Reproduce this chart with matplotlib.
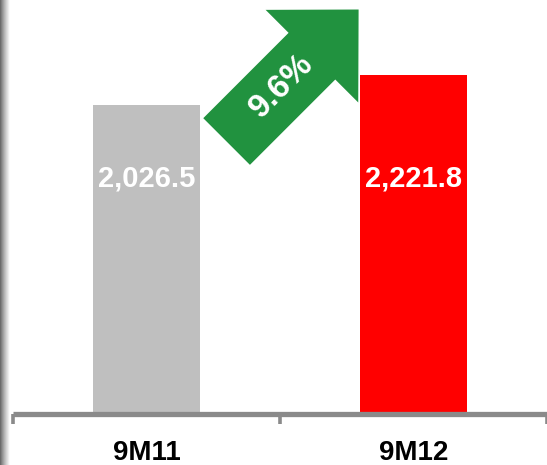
import numpy as np
import matplotlib
matplotlib.use("Agg")
import matplotlib.pyplot as plt
import matplotlib.patches as mpatches
from matplotlib.transforms import IdentityTransform, blended_transform_factory

plt.rcParams['font.family'] = ['Liberation Sans', 'DejaVu Sans']

# nine-month totals
periods = ["9M11", "9M12"]
values = [2026.5, 2221.8]
value_labels = ["2,026.5", "2,221.8"]
growth_label = "9.6%"

bar_colors = ["#bfbfbf", "#ff0000"]
arrow_color = "#21923f"
axis_color = "#8a8a8a"

DPI = 100
fig = plt.figure(figsize=(5.47, 4.65), dpi=DPI)
ax = fig.add_axes([13 / 547, 51 / 465, 1 - 13 / 547, 414 / 465])

x = np.arange(len(periods))
ax.bar(x, values, width=0.4, color=bar_colors, zorder=2)

ax.set_xlim(-0.5, 1.5)
ax.set_ylim(0, 2712)

# only the baseline is shown, with separators between the categories
for s in ["left", "right", "top"]:
    ax.spines[s].set_visible(False)
ax.spines["bottom"].set_color(axis_color)
ax.spines["bottom"].set_linewidth(3.8)
ax.spines["bottom"].set_capstyle("butt")
ax.set_yticks([])
ax.set_xticks(x)
ax.set_xticklabels(periods, fontsize=20, fontweight="bold")
ax.tick_params(axis="x", which="major", length=0, pad=19)
ax.set_xticks([-0.5, 0.5, 1.5], minor=True)
ax.tick_params(axis="x", which="minor", length=7.5, width=2.6,
               color=axis_color, direction="out")

# value labels inside the bars
lab_tr = blended_transform_factory(ax.transData, ax.transAxes)
for xi, lab in zip(x, value_labels):
    ax.text(xi, 0.57, lab, transform=lab_tr, ha="center", va="center",
            color="white", fontsize=21, fontweight="bold", zorder=3)

# growth arrow between the bars, drawn in pixels so it stays at 45 degrees
fig.canvas.draw()
tail = ax.transData.transform((0.3, 1785))
step = 132
arrow = mpatches.FancyArrow(tail[0], tail[1], step, step, width=66,
                            head_width=131, head_length=66,
                            length_includes_head=True, color=arrow_color,
                            linewidth=0, transform=IdentityTransform(),
                            zorder=4)
ax.add_artist(arrow)
mid = tail + 0.42 * np.array([step, step])
ax.text(mid[0], mid[1], growth_label, transform=IdentityTransform(),
        rotation=45, rotation_mode="anchor", ha="center", va="center",
        color="white", fontsize=24, fontweight="bold", zorder=5)

# shaded left edge of the slide
edge = fig.add_axes([0, 0, 10 / 547, 1])
grad = np.linspace(0.2, 1.0, 64) ** 0.6
edge.imshow(grad[np.newaxis, :], cmap="gray", vmin=0, vmax=1,
            aspect="auto", extent=[0, 1, 0, 1])
edge.set_axis_off()

fig.savefig("out.png", dpi=DPI)
